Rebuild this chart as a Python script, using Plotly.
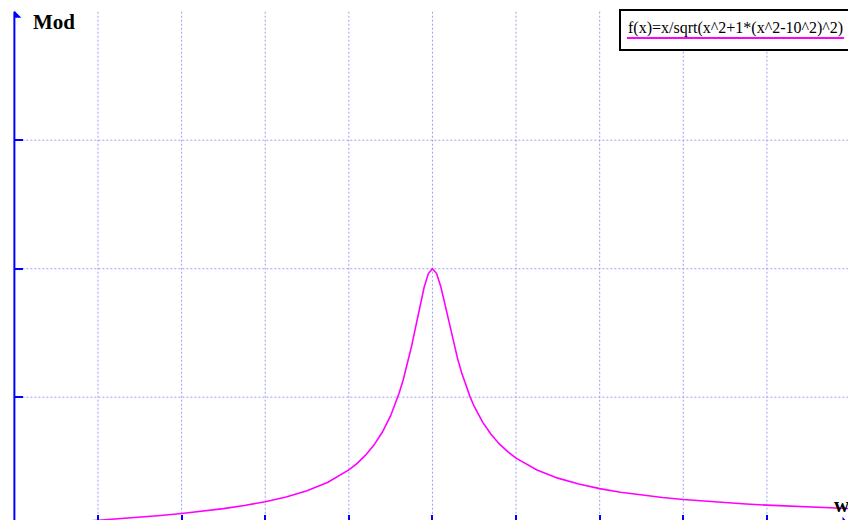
import plotly.graph_objects as go

# Modulus of the response f(x) = x / sqrt(x^2 + 1*(x^2 - 10^2)^2), sampled values
w_vals = [1.8, 2.0, 2.5, 3.0, 3.5, 4.0, 4.5, 5.0, 5.5, 6.0, 6.5, 7.0, 7.5, 8.0,
          8.2, 8.4, 8.6, 8.8, 9.0,
          9.1, 9.2, 9.3, 9.4, 9.5, 9.6, 9.7, 9.8, 9.9, 10.0,
          10.1, 10.2, 10.3, 10.4, 10.5, 10.6, 10.7, 10.8, 10.9,
          11.0, 11.2, 11.4, 11.6, 11.8, 12.0,
          12.5, 13.0, 13.5, 14.0, 14.5, 15.0, 15.5, 16.0, 16.5, 17.0,
          17.5, 18.0, 18.5, 19.0, 19.5, 20.0]
mod_vals = [0.0186, 0.0208, 0.0267, 0.0329, 0.0399, 0.0476, 0.0563, 0.0665, 0.0786,
            0.0933, 0.1118, 0.136, 0.169, 0.2169,
            0.2428, 0.2744, 0.3136, 0.3634, 0.428,
            0.468, 0.514, 0.567, 0.628, 0.698, 0.7745, 0.854, 0.927, 0.980, 1.0,
            0.981, 0.9297, 0.861, 0.7867, 0.7156, 0.651, 0.594, 0.5444, 0.5014,
            0.464, 0.403, 0.3556, 0.3182, 0.288, 0.2631,
            0.2169, 0.1851, 0.162, 0.1443, 0.1304, 0.1191, 0.1098, 0.1020, 0.0954,
            0.0896, 0.0845, 0.0801, 0.0761, 0.0726, 0.0694, 0.0665]

x_grid = [2, 4, 6, 8, 10, 12, 14, 16, 18]
y_grid = [0.5, 1.0, 1.5]
x_max, y_max = 20, 2.0

legend_text = "f(x)=x/sqrt(x^2+1*(x^2-10^2)^2)"
y_title = "Mod"
x_title = "w"

W, H = 848, 520
AXIS_BLUE = "#0000ff"
CURVE = "#ff00ff"
GRID = "#9e9ef2"
SERIF = "Liberation Serif"


def px(x):
    return x / W


def py(y):
    return 1 - y / H


fig = go.Figure()

fig.add_trace(go.Scatter(
    x=w_vals, y=mod_vals, mode="lines",
    line=dict(color=CURVE, width=1.6),
    hoverinfo="skip", showlegend=False,
))

shapes = []
# dotted grid
for gx in x_grid:
    shapes.append(dict(type="line", xref="x", yref="y", x0=gx, x1=gx, y0=0, y1=y_max,
                       line=dict(color=GRID, width=1, dash="2px,2px"), layer="below"))
for gy in y_grid:
    shapes.append(dict(type="line", xref="x", yref="y", x0=0, x1=x_max, y0=gy, y1=gy,
                       line=dict(color=GRID, width=1, dash="2px,2px"), layer="below"))

# vertical axis with arrow flag
shapes.append(dict(type="line", xref="x", yref="y", x0=0, x1=0, y0=0, y1=y_max,
                   line=dict(color=AXIS_BLUE, width=2)))
shapes.append(dict(type="path", xref="x", yref="y", xsizemode="pixel", ysizemode="pixel",
                   xanchor=0, yanchor=y_max, path="M 0,1 L 7,-6 L 0,-6 Z",
                   fillcolor=AXIS_BLUE, line=dict(width=0)))
# horizontal axis arrow flag
shapes.append(dict(type="path", xref="x", yref="y", xsizemode="pixel", ysizemode="pixel",
                   xanchor=x_max, yanchor=0, path="M 0,0 L -8,9 L -8,0 Z",
                   fillcolor=AXIS_BLUE, line=dict(width=0)))

# legend box
shapes.append(dict(type="rect", xref="paper", yref="paper",
                   x0=px(620), x1=px(870), y0=py(10), y1=py(50),
                   line=dict(color="black", width=2), fillcolor="white"))
shapes.append(dict(type="line", xref="paper", yref="paper",
                   x0=px(627), x1=px(844), y0=py(38), y1=py(38),
                   line=dict(color=CURVE, width=2)))

annotations = [
    dict(text=legend_text, xref="paper", yref="paper", x=px(626), y=py(27.5),
         xanchor="left", yanchor="middle", showarrow=False,
         font=dict(family=SERIF, size=16, color="black")),
    dict(text="<b>" + y_title + "</b>", xref="paper", yref="paper", x=px(31), y=py(22),
         xanchor="left", yanchor="middle", showarrow=False,
         font=dict(family=SERIF, size=21, color="black")),
    dict(text="<b>" + x_title + "</b>", xref="paper", yref="paper", x=px(832), y=py(505),
         xanchor="left", yanchor="middle", showarrow=False,
         font=dict(family=SERIF, size=21, color="black")),
]

fig.update_layout(
    width=W, height=H,
    margin=dict(l=0, r=0, t=0, b=0),
    paper_bgcolor="white", plot_bgcolor="white",
    shapes=shapes, annotations=annotations,
    showlegend=False,
    xaxis=dict(range=[-0.344, 19.94], showgrid=False, zeroline=False, showline=False,
               tickvals=x_grid, ticks="inside", ticklen=5, tickwidth=2,
               tickcolor=AXIS_BLUE, showticklabels=False, fixedrange=True),
    yaxis=dict(range=[0.0222, 2.0455], showgrid=False, zeroline=False, showline=False,
               anchor="free", position=14.4 / W,
               tickvals=y_grid, ticks="inside", ticklen=8, tickwidth=2,
               tickcolor=AXIS_BLUE, showticklabels=False, fixedrange=True),
)

fig.write_html("out.html", config={"displayModeBar": False})
